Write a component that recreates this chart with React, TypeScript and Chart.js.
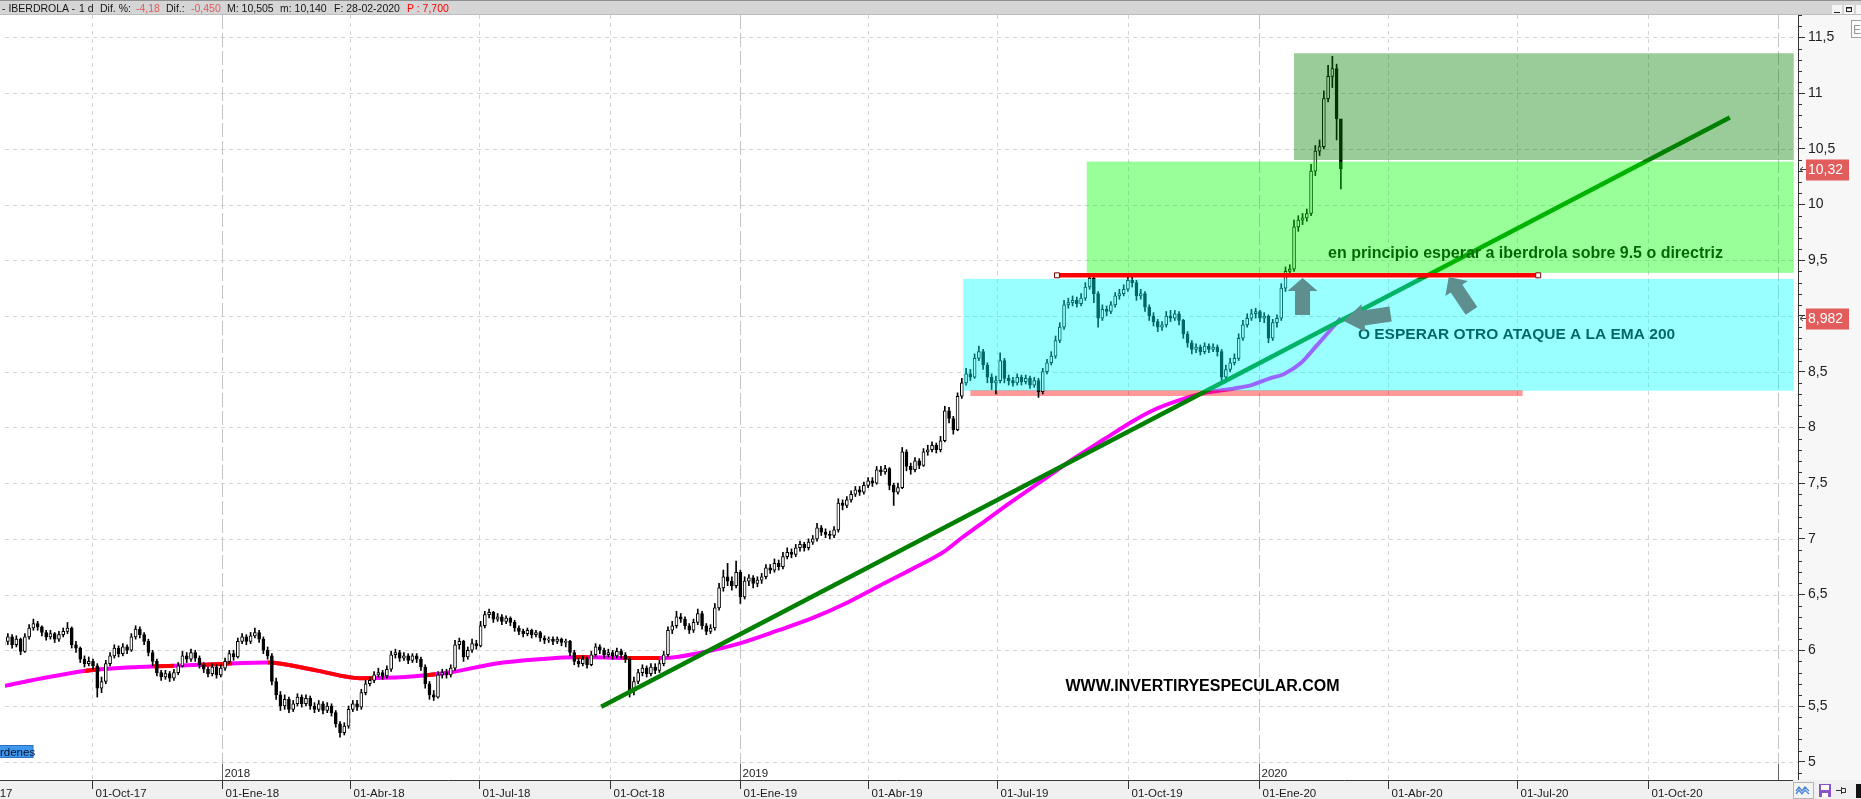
import React, { useEffect, useRef } from 'react';
import { Chart, registerables } from 'chart.js';

Chart.register(...registerables);

// ---------------- DATA ----------------
// Candles: one bar every 3 calendar days, from 31-07-2017 to 28-02-2020
const CANDLE_START = '2017-07-31';
const CANDLE_STEP_DAYS = 3;
const FIRST_OPEN = 6.04;

const closes = [
  6.08, 6.12, 6.05, 6.10, 5.99, 6.12, 6.20, 6.24, 6.21, 6.16,
  6.12, 6.15, 6.10, 6.14, 6.17, 6.20, 6.05, 6.02, 5.92, 5.88,
  5.90, 5.86, 5.66, 5.72, 5.88, 5.95, 6.02, 5.97, 6.03, 6.00,
  6.12, 6.19, 6.14, 6.08, 5.98, 5.90, 5.80, 5.76, 5.79, 5.75,
  5.80, 5.86, 5.95, 5.92, 5.98, 5.93, 5.87, 5.83, 5.79, 5.85,
  5.78, 5.84, 5.90, 5.97, 5.94, 6.08, 6.12, 6.08, 6.13, 6.16,
  6.10, 6.00, 5.95, 5.72, 5.60, 5.50, 5.56, 5.47, 5.52, 5.58,
  5.52, 5.57, 5.50, 5.47, 5.52, 5.46, 5.50, 5.44, 5.34, 5.26,
  5.32, 5.47, 5.52, 5.49, 5.62, 5.70, 5.73, 5.78, 5.80, 5.77,
  5.83, 5.96, 5.98, 5.93, 5.95, 5.91, 5.95, 5.92, 5.85, 5.70,
  5.60, 5.58, 5.78, 5.80, 5.78, 5.84, 6.05, 6.08, 5.94, 6.00,
  6.06, 6.04, 6.22, 6.32, 6.34, 6.28, 6.30, 6.26, 6.29, 6.25,
  6.20, 6.17, 6.15, 6.18, 6.14, 6.16, 6.11, 6.09, 6.10, 6.08,
  6.10, 6.07, 6.08, 5.98, 5.90, 5.88, 5.92, 5.87, 5.96, 6.03,
  6.00, 5.96, 5.98, 5.95, 5.99, 5.96, 5.92, 5.64, 5.72, 5.80,
  5.84, 5.79, 5.85, 5.82, 5.88, 5.96, 6.18, 6.22, 6.30, 6.28,
  6.22, 6.18, 6.25, 6.33, 6.22, 6.17, 6.20, 6.38, 6.56, 6.66,
  6.62, 6.58, 6.70, 6.48, 6.62, 6.65, 6.60, 6.63, 6.66, 6.74,
  6.72, 6.78, 6.75, 6.84, 6.88, 6.86, 6.92, 6.95, 6.92, 6.97,
  7.00, 7.10, 7.06, 7.04, 7.03, 7.08, 7.32, 7.30, 7.35, 7.40,
  7.44, 7.42, 7.48, 7.52, 7.50, 7.62, 7.60, 7.63, 7.48, 7.42,
  7.46, 7.78, 7.65, 7.62, 7.70, 7.66, 7.78, 7.80, 7.84, 7.80,
  7.88, 8.15, 8.08, 7.98, 8.28, 8.40, 8.48, 8.45, 8.62, 8.68,
  8.56, 8.45, 8.40, 8.42, 8.60, 8.44, 8.42, 8.40, 8.45, 8.41,
  8.44, 8.38, 8.42, 8.32, 8.50, 8.58, 8.64, 8.78, 8.90, 9.10,
  9.12, 9.14, 9.11, 9.16, 9.26, 9.34, 9.20, 8.98, 9.06, 9.04,
  9.10, 9.18, 9.20, 9.24, 9.32, 9.30, 9.18, 9.20, 9.08, 9.00,
  8.95, 8.90, 8.92, 9.00, 8.98, 9.02, 8.96, 8.84, 8.76, 8.70,
  8.72, 8.68, 8.73, 8.70, 8.72, 8.68, 8.45, 8.52, 8.58, 8.62,
  8.80, 8.92, 8.98, 9.02, 9.04, 8.98, 9.00, 8.80, 8.94, 8.98,
  9.25, 9.40, 9.42, 9.80, 9.86, 9.88, 9.92, 10.30, 10.48, 10.52,
  10.95, 11.15, 11.22, 10.77, 10.32,
];

const highs = [
  6.12, 6.15, 6.14, 6.13, 6.11, 6.15, 6.23, 6.28, 6.26, 6.22,
  6.18, 6.18, 6.16, 6.17, 6.20, 6.25, 6.21, 6.08, 6.03, 5.95,
  5.94, 5.92, 5.88, 5.76, 5.91, 5.98, 6.05, 6.04, 6.06, 6.05,
  6.15, 6.22, 6.21, 6.16, 6.10, 6.00, 5.92, 5.82, 5.82, 5.81,
  5.83, 5.89, 5.99, 5.98, 6.01, 6.00, 5.95, 5.89, 5.85, 5.88,
  5.87, 5.87, 5.93, 6.00, 6.00, 6.11, 6.15, 6.14, 6.16, 6.20,
  6.18, 6.12, 6.03, 5.97, 5.75, 5.63, 5.60, 5.58, 5.55, 5.61,
  5.60, 5.60, 5.59, 5.53, 5.55, 5.54, 5.53, 5.52, 5.46, 5.36,
  5.35, 5.50, 5.55, 5.55, 5.65, 5.73, 5.76, 5.81, 5.84, 5.82,
  5.86, 5.99, 6.01, 6.00, 5.98, 5.97, 5.97, 5.97, 5.94, 5.87,
  5.72, 5.64, 5.81, 5.83, 5.83, 5.87, 6.09, 6.11, 6.09, 6.03,
  6.10, 6.09, 6.26, 6.35, 6.37, 6.35, 6.33, 6.32, 6.31, 6.30,
  6.27, 6.22, 6.19, 6.20, 6.19, 6.18, 6.17, 6.13, 6.12, 6.12,
  6.12, 6.11, 6.10, 6.09, 6.00, 5.93, 5.95, 5.94, 5.99, 6.06,
  6.05, 6.02, 6.01, 6.00, 6.02, 6.01, 5.98, 5.94, 5.76, 5.83,
  5.87, 5.86, 5.88, 5.88, 5.91, 5.99, 6.21, 6.26, 6.35, 6.33,
  6.30, 6.24, 6.28, 6.37, 6.35, 6.24, 6.23, 6.42, 6.60, 6.72,
  6.78, 6.66, 6.80, 6.72, 6.66, 6.68, 6.67, 6.66, 6.69, 6.77,
  6.77, 6.82, 6.81, 6.88, 6.92, 6.91, 6.95, 6.98, 6.97, 7.00,
  7.03, 7.14, 7.12, 7.09, 7.07, 7.11, 7.36, 7.35, 7.38, 7.43,
  7.47, 7.47, 7.51, 7.55, 7.55, 7.65, 7.65, 7.66, 7.64, 7.50,
  7.50, 7.82, 7.80, 7.68, 7.73, 7.72, 7.81, 7.84, 7.87, 7.86,
  7.92, 8.19, 8.18, 8.10, 8.31, 8.44, 8.53, 8.52, 8.66, 8.73,
  8.70, 8.58, 8.48, 8.46, 8.67, 8.62, 8.47, 8.45, 8.48, 8.47,
  8.47, 8.46, 8.45, 8.44, 8.53, 8.61, 8.68, 8.82, 8.94, 9.14,
  9.16, 9.18, 9.17, 9.20, 9.30, 9.38, 9.36, 9.22, 9.10, 9.09,
  9.13, 9.21, 9.24, 9.28, 9.38, 9.36, 9.32, 9.24, 9.22, 9.10,
  9.03, 8.97, 8.95, 9.04, 9.05, 9.05, 9.04, 8.97, 8.86, 8.78,
  8.75, 8.74, 8.76, 8.75, 8.75, 8.74, 8.70, 8.56, 8.62, 8.66,
  8.84, 8.96, 9.02, 9.06, 9.07, 9.05, 9.03, 9.01, 8.97, 9.01,
  9.29, 9.44, 9.46, 9.86, 9.90, 9.92, 9.96, 10.36, 10.53, 10.58,
  11.02, 11.25, 11.33, 11.26, 10.505,
];

const lows = [
  6.02, 6.05, 6.02, 6.03, 5.96, 5.98, 6.10, 6.18, 6.18, 6.13,
  6.09, 6.10, 6.07, 6.08, 6.12, 6.15, 6.02, 5.98, 5.89, 5.85,
  5.86, 5.83, 5.58, 5.62, 5.70, 5.86, 5.93, 5.94, 5.95, 5.97,
  5.99, 6.10, 6.11, 6.05, 5.95, 5.86, 5.77, 5.73, 5.74, 5.72,
  5.73, 5.78, 5.85, 5.89, 5.90, 5.90, 5.84, 5.80, 5.76, 5.77,
  5.75, 5.76, 5.82, 5.88, 5.91, 5.93, 6.06, 6.05, 6.06, 6.11,
  6.07, 5.97, 5.92, 5.69, 5.56, 5.46, 5.47, 5.44, 5.45, 5.50,
  5.49, 5.50, 5.47, 5.44, 5.45, 5.43, 5.44, 5.41, 5.31, 5.22,
  5.24, 5.30, 5.45, 5.46, 5.47, 5.60, 5.68, 5.71, 5.76, 5.74,
  5.75, 5.81, 5.93, 5.90, 5.91, 5.88, 5.89, 5.89, 5.82, 5.66,
  5.56, 5.55, 5.57, 5.75, 5.75, 5.76, 5.82, 6.01, 5.90, 5.92,
  5.98, 6.01, 6.03, 6.20, 6.29, 6.25, 6.26, 6.23, 6.24, 6.22,
  6.17, 6.14, 6.12, 6.13, 6.11, 6.12, 6.08, 6.06, 6.07, 6.05,
  6.06, 6.04, 6.03, 5.95, 5.87, 5.85, 5.86, 5.84, 5.86, 5.94,
  5.97, 5.93, 5.94, 5.92, 5.93, 5.93, 5.89, 5.58, 5.60, 5.70,
  5.77, 5.76, 5.77, 5.79, 5.80, 5.86, 5.94, 6.15, 6.20, 6.25,
  6.19, 6.15, 6.16, 6.23, 6.19, 6.14, 6.15, 6.18, 6.36, 6.53,
  6.58, 6.54, 6.56, 6.42, 6.46, 6.58, 6.56, 6.57, 6.60, 6.64,
  6.69, 6.70, 6.72, 6.73, 6.82, 6.83, 6.84, 6.89, 6.89, 6.90,
  6.95, 6.98, 7.03, 7.01, 7.00, 7.01, 7.06, 7.26, 7.28, 7.33,
  7.38, 7.39, 7.40, 7.46, 7.47, 7.49, 7.57, 7.58, 7.44, 7.30,
  7.40, 7.45, 7.61, 7.58, 7.60, 7.63, 7.65, 7.75, 7.78, 7.77,
  7.78, 7.87, 8.04, 7.94, 7.97, 8.26, 8.38, 8.42, 8.44, 8.60,
  8.52, 8.40, 8.34, 8.30, 8.40, 8.40, 8.38, 8.37, 8.38, 8.38,
  8.39, 8.35, 8.36, 8.27, 8.30, 8.48, 8.56, 8.62, 8.76, 8.88,
  9.07, 9.09, 9.08, 9.09, 9.14, 9.24, 9.12, 8.90, 8.96, 9.00,
  9.02, 9.08, 9.15, 9.18, 9.22, 9.26, 9.14, 9.15, 9.04, 8.96,
  8.91, 8.86, 8.87, 8.90, 8.95, 8.96, 8.92, 8.80, 8.72, 8.66,
  8.67, 8.65, 8.66, 8.67, 8.68, 8.64, 8.40, 8.43, 8.50, 8.56,
  8.60, 8.78, 8.90, 8.96, 8.98, 8.95, 8.94, 8.76, 8.78, 8.90,
  8.96, 9.22, 9.36, 9.40, 9.76, 9.82, 9.85, 9.90, 10.26, 10.44,
  10.50, 10.92, 11.05, 10.58, 10.14,
];

// EMA 200
const emaDates = [
  '2017-07-31', '2017-09-01', '2017-09-30', '2017-11-03', '2017-12-17', '2018-02-02',
  '2018-03-08', '2018-04-08', '2018-05-10', '2018-06-10', '2018-07-12', '2018-08-12',
  '2018-09-12', '2018-10-14', '2018-11-08', '2018-12-05', '2018-12-31', '2019-01-28',
  '2019-02-21', '2019-03-16', '2019-04-09', '2019-05-02', '2019-05-25', '2019-06-06',
  '2019-06-18', '2019-07-04', '2019-07-30', '2019-08-25', '2019-09-15', '2019-10-05',
  '2019-10-18', '2019-11-10', '2019-11-24', '2019-12-15', '2019-12-27', '2020-01-09',
  '2020-01-19', '2020-01-31', '2020-02-10', '2020-02-28',
];
const emaValues = [
  5.68, 5.76, 5.82, 5.85, 5.87, 5.89,
  5.82, 5.75, 5.76, 5.80, 5.88, 5.92,
  5.94, 5.93, 5.93, 5.98, 6.06, 6.18,
  6.29, 6.42, 6.58, 6.73, 6.89, 7.01,
  7.12, 7.27, 7.50, 7.73, 7.90, 8.06,
  8.15, 8.26, 8.31, 8.35, 8.38, 8.44,
  8.48, 8.58, 8.72, 8.982,
];
// periods where the price was under the EMA (EMA painted red)
const emaBelowStart = ['2017-09-26', '2017-11-14', '2017-12-17', '2018-02-02', '2018-05-23', '2018-09-06', '2018-10-10'];
const emaBelowEnd = ['2017-10-07', '2017-11-28', '2018-01-08', '2018-04-18', '2018-05-31', '2018-09-16', '2018-11-05'];

// Drawn objects
const trendDates = ['2018-09-25', '2020-11-28'];
const trendValues = [5.494, 10.781];
const resistDates = ['2019-08-12', '2020-07-16'];
const resistLevel = 9.365;
const supportDates = ['2019-06-12', '2020-07-05'];
const supportLevel = 8.309;

const zoneStart = ['2019-06-07', '2019-09-02', '2020-01-26'];
const zoneEnd = ['2021-01-12', '2021-01-12', '2021-01-12'];
const zoneLow = [8.33, 9.387, 10.40];
const zoneHigh = [9.333, 10.386, 11.358];

const noteTexts = [
  'en principio esperar a iberdrola sobre 9.5 o directriz',
  'O ESPERAR OTRO ATAQUE A LA EMA 200',
  'WWW.INVERTIRYESPECULAR.COM',
];
const noteDates = ['2020-02-19', '2020-03-11', '2019-08-18'];
const notePrices = [9.556, 8.83, 5.67];

const arrowTipDates = ['2020-02-01', '2020-05-14', '2020-03-01'];
const arrowTipPrices = [9.341, 9.35, 8.955];
const arrowTailDates = ['2020-02-01', '2020-05-30', '2020-04-03'];
const arrowTailPrices = [9.009, 9.045, 9.018];

// Axis ticks
const yTicks = [5, 5.5, 6, 6.5, 7, 7.5, 8, 8.5, 9, 9.5, 10, 10.5, 11, 11.5];
const xTickDates = [
  '2017-07-01', '2017-10-01', '2018-01-01', '2018-04-01', '2018-07-01', '2018-10-01', '2019-01-01',
  '2019-04-01', '2019-07-01', '2019-10-01', '2020-01-01', '2020-04-01', '2020-07-01', '2020-10-01', '2021-01-01',
];
const xTickLabels = [
  '01-Jul-17', '01-Oct-17', '01-Ene-18', '01-Abr-18', '01-Jul-18', '01-Oct-18', '01-Ene-19',
  '01-Abr-19', '01-Jul-19', '01-Oct-19', '01-Ene-20', '01-Abr-20', '01-Jul-20', '01-Oct-20', '01-Ene-21',
];

const VIEW_START = '2017-08-01';
const VIEW_END = '2021-01-15';
const Y_MIN = 4.836;
const Y_MAX = 11.701;

const TICKER = 'IBERDROLA';
const LAST_DATE = '28-02-2020';
const P_VALUE = '7,700';

// ---------------- STYLE ----------------
const W = 1861;
const H = 799;
const FONT = '"Liberation Sans", Arial, sans-serif';
const ZONE_COLORS = ['rgba(0,255,255,0.4)', 'rgba(0,255,0,0.4)', 'rgba(0,128,0,0.4)'];
const NOTE_FONTS = [`bold 16px ${FONT}`, `bold 15.5px ${FONT}`, `bold 16px ${FONT}`];
const ARROW_COLOR = '#5f8e8e';
const ARROW_HEAD = [[13, 30, 15], [14, 27, 14], [20, 28, 15]];

const DAY0 = Date.UTC(2018, 0, 1);
const dayNum = (iso: string) => {
  const [y, m, d] = iso.split('-').map(Number);
  return (Date.UTC(y, m - 1, d) - DAY0) / 86400000;
};
const comma = (v: number, dec: number) => v.toFixed(dec).replace('.', ',');

const candleX = closes.map((_, i) => dayNum(CANDLE_START) + i * CANDLE_STEP_DAYS);
const opens = closes.map((_, i) => (i === 0 ? FIRST_OPEN : closes[i - 1]));
const lastClose = closes[closes.length - 1];
const prevClose = closes[closes.length - 2];
const lastHigh = highs[highs.length - 1];
const lastLow = lows[lows.length - 1];
const lastEma = emaValues[emaValues.length - 1];

const IDX_TREND = 1;
const IDX_EMA_RED = 5;

function blockArrow(ctx: any, tx: number, ty: number, bx: number, by: number, hl: number, hw: number, sw: number) {
  const ang = Math.atan2(ty - by, tx - bx);
  const len = Math.hypot(tx - bx, ty - by);
  ctx.save();
  ctx.translate(bx, by);
  ctx.rotate(ang);
  ctx.beginPath();
  ctx.moveTo(0, -sw / 2);
  ctx.lineTo(len - hl, -sw / 2);
  ctx.lineTo(len - hl, -hw / 2);
  ctx.lineTo(len, 0);
  ctx.lineTo(len - hl, hw / 2);
  ctx.lineTo(len - hl, sw / 2);
  ctx.lineTo(0, sw / 2);
  ctx.closePath();
  ctx.fill();
  ctx.restore();
}

const decorPlugin = {
  id: 'decor',
  beforeDraw(chart: any) {
    const { ctx, width, height, chartArea: a } = chart;
    ctx.save();
    ctx.fillStyle = '#ffffff';
    ctx.fillRect(0, 0, width, height);
    ctx.fillStyle = '#f7f7f7';
    ctx.fillRect(a.right, 0, width - a.right, a.bottom);
    ctx.restore();
  },
  beforeDatasetsDraw(chart: any) {
    const { ctx, chartArea: a } = chart;
    const xs = chart.scales.x;
    const ys = chart.scales.y;
    ctx.save();
    ctx.lineWidth = 1;
    ctx.setLineDash([4, 4]);
    ctx.strokeStyle = '#d3d3d3';
    yTicks.forEach((v) => {
      const y = Math.round(ys.getPixelForValue(v)) + 0.5;
      ctx.beginPath();
      ctx.moveTo(a.left, y);
      ctx.lineTo(a.right, y);
      ctx.stroke();
    });
    xTickDates.forEach((d) => {
      const x = Math.round(xs.getPixelForValue(dayNum(d))) + 0.5;
      if (x < a.left || x > a.right) return;
      const yr = d.endsWith('-01-01');
      ctx.setLineDash(yr ? [14, 4] : [4, 4]);
      ctx.strokeStyle = yr ? '#c4c4c4' : '#d3d3d3';
      ctx.beginPath();
      ctx.moveTo(x, a.top);
      ctx.lineTo(x, a.bottom);
      ctx.stroke();
    });
    ctx.restore();
  },
  beforeDatasetDraw(chart: any, args: any) {
    if (args.index !== IDX_EMA_RED) return;
    const { ctx, chartArea: a } = chart;
    const xs = chart.scales.x;
    ctx.save();
    ctx.beginPath();
    emaBelowStart.forEach((s, i) => {
      const x1 = xs.getPixelForValue(dayNum(s));
      const x2 = xs.getPixelForValue(dayNum(emaBelowEnd[i]));
      ctx.rect(x1, a.top, x2 - x1, a.bottom - a.top);
    });
    ctx.clip();
  },
  afterDatasetDraw(chart: any, args: any) {
    const { ctx, chartArea: a } = chart;
    if (args.index === IDX_EMA_RED) {
      ctx.restore();
      return;
    }
    if (args.index !== IDX_TREND) return;
    const xs = chart.scales.x;
    const ys = chart.scales.y;
    ctx.save();
    ctx.beginPath();
    ctx.rect(a.left, a.top, a.right - a.left, a.bottom - a.top);
    ctx.clip();
    ctx.fillStyle = '#000000';
    ctx.textBaseline = 'middle';
    ctx.textAlign = 'left';
    noteTexts.forEach((t, i) => {
      ctx.font = NOTE_FONTS[i];
      ctx.fillText(t, xs.getPixelForValue(dayNum(noteDates[i])), ys.getPixelForValue(notePrices[i]));
    });
    zoneStart.forEach((s, i) => {
      const x1 = xs.getPixelForValue(dayNum(s));
      const x2 = xs.getPixelForValue(dayNum(zoneEnd[i]));
      const y1 = ys.getPixelForValue(zoneHigh[i]);
      const y2 = ys.getPixelForValue(zoneLow[i]);
      ctx.fillStyle = ZONE_COLORS[i];
      ctx.fillRect(x1, y1, x2 - x1, y2 - y1);
    });
    ctx.restore();
  },
  afterDatasetsDraw(chart: any) {
    const { ctx } = chart;
    const xs = chart.scales.x;
    const ys = chart.scales.y;
    ctx.save();
    ctx.fillStyle = ARROW_COLOR;
    arrowTipDates.forEach((d, i) => {
      const [hl, hw, sw] = ARROW_HEAD[i];
      blockArrow(
        ctx,
        xs.getPixelForValue(dayNum(d)), ys.getPixelForValue(arrowTipPrices[i]),
        xs.getPixelForValue(dayNum(arrowTailDates[i])), ys.getPixelForValue(arrowTailPrices[i]),
        hl, hw, sw,
      );
    });
    ctx.restore();
  },
  afterDraw(chart: any) {
    const { ctx, width, height, chartArea: a } = chart;
    const xs = chart.scales.x;
    const ys = chart.scales.y;
    ctx.save();
    // minor ticks on price axis
    ctx.strokeStyle = '#333';
    ctx.lineWidth = 1;
    for (let k = Math.ceil(Y_MIN * 10); k <= Math.floor(Y_MAX * 10); k++) {
      if (k % 5 === 0) continue;
      const y = Math.round(ys.getPixelForValue(k / 10)) + 0.5;
      ctx.beginPath();
      ctx.moveTo(a.right, y);
      ctx.lineTo(a.right + 4, y);
      ctx.stroke();
    }
    // bottom date strip
    ctx.fillStyle = '#f0f0f0';
    ctx.fillRect(0, a.bottom, width, height - a.bottom);
    ctx.strokeStyle = '#3a3a3a';
    ctx.beginPath();
    ctx.moveTo(0, a.bottom + 0.5);
    ctx.lineTo(a.right - 5, a.bottom + 0.5);
    ctx.stroke();
    ctx.font = `11.5px ${FONT}`;
    ctx.textBaseline = 'alphabetic';
    ctx.textAlign = 'left';
    xTickDates.forEach((d, i) => {
      const x = Math.round(xs.getPixelForValue(dayNum(d))) + 0.5;
      const lbl = xTickLabels[i];
      const wLbl = ctx.measureText(lbl).width;
      const yr = d.endsWith('-01-01');
      if (yr) {
        ctx.strokeStyle = '#666';
        ctx.beginPath();
        ctx.moveTo(x, a.bottom - 16);
        ctx.lineTo(x, a.bottom);
        ctx.stroke();
        const yl = '20' + d.slice(2, 4);
        if (x + 3 + ctx.measureText(yl).width < a.right - 8) {
          ctx.fillStyle = '#222';
          ctx.fillText(yl, x + 2, a.bottom - 3);
        }
      }
      if (x + 3 + wLbl > a.right - 6) return;
      ctx.strokeStyle = '#333';
      ctx.beginPath();
      ctx.moveTo(x, a.bottom);
      ctx.lineTo(x, a.bottom + 9);
      ctx.stroke();
      ctx.fillStyle = '#1a1a1a';
      ctx.fillText(lbl, x + 3, height - 2);
    });
    // price tags
    const tags = [
      { v: lastClose, t: comma(lastClose, 2) },
      { v: lastEma, t: comma(lastEma, 3) },
    ];
    ctx.font = `14px ${FONT}`;
    ctx.textBaseline = 'middle';
    tags.forEach((tg) => {
      const y = ys.getPixelForValue(tg.v);
      ctx.fillStyle = '#e25c5c';
      ctx.fillRect(a.right + 8, Math.round(y) - 9.5, 43, 21);
      ctx.fillStyle = '#ffffff';
      ctx.fillText(tg.t, a.right + 10, y + 1);
      ctx.strokeStyle = '#444';
      ctx.beginPath();
      ctx.moveTo(a.right + 2, Math.round(y) + 0.5);
      ctx.lineTo(a.right + 8, Math.round(y) + 0.5);
      ctx.moveTo(a.right + 5, Math.round(y) - 2);
      ctx.lineTo(a.right + 2, Math.round(y) + 0.5);
      ctx.lineTo(a.right + 5, Math.round(y) + 3);
      ctx.stroke();
    });
    // "Órdenes" tab (cut at left edge)
    ctx.fillStyle = '#3d98ee';
    ctx.fillRect(0, 745, 33, 13);
    ctx.strokeStyle = '#2b6fc2';
    ctx.strokeRect(-1, 745.5, 34, 12);
    ctx.fillStyle = '#101030';
    ctx.font = `11.5px ${FONT}`;
    ctx.textBaseline = 'alphabetic';
    ctx.fillText('rdenes', 0, 756);
    // header bar
    ctx.fillStyle = '#d5d5d5';
    ctx.fillRect(0, 0, width, 15);
    ctx.fillStyle = '#8f8f8f';
    ctx.fillRect(0, 0, width, 1);
    ctx.fillStyle = '#bdbdbd';
    ctx.fillRect(0, 14, width, 1);
    // window buttons
    ctx.fillStyle = '#f5f5f5';
    ctx.fillRect(1832, 5, 10, 9);
    ctx.fillRect(1844, 5, 10, 9);
    ctx.fillRect(1856, 5, 6, 9);
    ctx.fillStyle = '#222';
    ctx.fillRect(1834, 12, 6, 1);
    ctx.strokeStyle = '#222';
    ctx.strokeRect(1846.5, 7.5, 5, 4);
    ctx.fillRect(1846, 7, 6, 1.5);
    // E box
    ctx.fillStyle = '#fbfbfb';
    ctx.fillRect(1851, 20, 14, 18);
    ctx.strokeStyle = '#a0a0a0';
    ctx.strokeRect(1851.5, 20.5, 14, 17);
    ctx.fillStyle = '#9a9a9a';
    ctx.font = `12px ${FONT}`;
    ctx.fillText('E', 1853, 34);
    // bottom-right icons
    ctx.fillStyle = '#f4f4f4';
    ctx.fillRect(1793, 782, 20, 16);
    ctx.strokeStyle = '#b5b5b5';
    ctx.strokeRect(1793.5, 782.5, 20, 16);
    ctx.strokeStyle = '#4a86d8';
    ctx.lineWidth = 1.3;
    ctx.beginPath();
    ctx.moveTo(1796, 791); ctx.lineTo(1799, 787); ctx.lineTo(1802, 791); ctx.lineTo(1805, 787); ctx.lineTo(1809, 791);
    ctx.moveTo(1796, 794); ctx.lineTo(1799, 790); ctx.lineTo(1802, 794); ctx.lineTo(1805, 790); ctx.lineTo(1809, 794);
    ctx.stroke();
    ctx.lineWidth = 1;
    ctx.fillStyle = '#8a52c8';
    ctx.fillRect(1819, 784, 12, 13);
    ctx.fillStyle = '#ffffff';
    ctx.fillRect(1821, 785, 8, 5);
    ctx.fillRect(1822, 793, 6, 4);
    ctx.strokeStyle = '#333';
    ctx.beginPath();
    ctx.moveTo(1836, 790.5); ctx.lineTo(1841, 790.5);
    ctx.moveTo(1841.5, 787); ctx.lineTo(1841.5, 794);
    ctx.rect(1841.5, 788.5, 4, 4);
    ctx.stroke();
    ctx.fillStyle = '#111';
    ctx.fillRect(1856, 784, 5, 14);
    ctx.restore();
  },
};

export default function App() {
  const ref = useRef<HTMLCanvasElement>(null);

  useEffect(() => {
    document.body.style.margin = '0';
    document.body.style.overflow = 'hidden';
    const canvas = ref.current;
    if (!canvas) return;

    const bodies = closes.map((c, i) => ({ x: candleX[i], y: [opens[i], c] }));
    const wicks = closes.map((_, i) => ({ x: candleX[i], y: [lows[i], highs[i]] }));
    const emaData = emaDates.map((d, i) => ({ x: dayNum(d), y: emaValues[i] }));

    const chart = new Chart(canvas, {
      type: 'bar',
      data: {
        datasets: [
          {
            type: 'line',
            label: 'Resistencia',
            data: resistDates.map((d) => ({ x: dayNum(d), y: resistLevel })),
            borderColor: '#ff0000',
            borderWidth: 4.5,
            borderCapStyle: 'butt',
            pointStyle: 'rect',
            pointRadius: 3.5,
            pointBackgroundColor: '#ffffff',
            pointBorderColor: '#7a0000',
            pointBorderWidth: 1,
          },
          {
            type: 'line',
            label: 'Directriz',
            data: trendDates.map((d, i) => ({ x: dayNum(d), y: trendValues[i] })),
            borderColor: 'rgb(0,128,0)',
            borderWidth: 4.5,
            borderCapStyle: 'butt',
            pointRadius: 0,
          },
          {
            type: 'bar',
            label: 'Cuerpo',
            data: bodies as any,
            barThickness: 3,
            grouped: false,
            borderSkipped: false,
            borderWidth: 1,
            borderColor: '#000000',
            backgroundColor: (c: any) => (closes[c.dataIndex] >= opens[c.dataIndex] ? '#ffffff' : '#000000'),
          },
          {
            type: 'bar',
            label: 'Mecha',
            data: wicks as any,
            barThickness: 1,
            grouped: false,
            borderWidth: 0,
            backgroundColor: '#000000',
          },
          {
            type: 'line',
            label: 'Soporte',
            data: supportDates.map((d) => ({ x: dayNum(d), y: supportLevel })),
            borderColor: 'rgba(255,0,0,0.4)',
            borderWidth: 6,
            borderCapStyle: 'butt',
            pointRadius: 0,
          },
          {
            type: 'line',
            label: 'EMA 200 (precio debajo)',
            data: emaData,
            borderColor: '#ff0000',
            borderWidth: 4,
            pointRadius: 0,
            cubicInterpolationMode: 'monotone',
          },
          {
            type: 'line',
            label: 'EMA 200',
            data: emaData,
            borderColor: '#ff00ff',
            borderWidth: 4,
            pointRadius: 0,
            cubicInterpolationMode: 'monotone',
          },
        ] as any,
      },
      options: {
        responsive: false,
        animation: false,
        events: [],
        layout: { padding: { top: 15, bottom: 19, left: 0, right: 0 } },
        plugins: {
          legend: { display: false },
          tooltip: { enabled: false },
          title: { display: false },
        },
        scales: {
          x: {
            type: 'linear',
            display: false,
            min: dayNum(VIEW_START),
            max: dayNum(VIEW_END),
            offset: false,
          },
          y: {
            type: 'linear',
            position: 'right',
            min: Y_MIN,
            max: Y_MAX,
            afterBuildTicks: (s: any) => {
              s.ticks = yTicks.map((v) => ({ value: v }));
            },
            afterFit: (s: any) => {
              s.width = 63;
            },
            ticks: {
              callback: (v: any) => String(v).replace('.', ','),
              font: { family: 'Liberation Sans', size: 14 },
              color: '#222222',
              padding: 3,
              autoSkip: false,
            },
            grid: { drawOnChartArea: false, drawTicks: true, tickLength: 7, tickColor: '#333333', tickWidth: 1 },
            border: { display: true, color: '#333333', width: 1 },
          },
        },
      } as any,
      plugins: [decorPlugin as any],
    });
    return () => chart.destroy();
  }, []);

  const dif = prevClose ? lastClose - prevClose : 0;
  const difPct = prevClose ? (dif / prevClose) * 100 : 0;
  const headerParts = [
    { t: `- ${TICKER} -`, x: 2, c: '#151515' },
    { t: '1 d', x: 79, c: '#151515' },
    { t: 'Dif. %:', x: 100, c: '#151515' },
    { t: comma(difPct, 2), x: 136, c: '#e05a5a' },
    { t: 'Dif.:', x: 166, c: '#151515' },
    { t: comma(dif, 3), x: 191, c: '#e05a5a' },
    { t: `M: ${comma(lastHigh, 3)}`, x: 227, c: '#151515' },
    { t: `m: ${comma(lastLow, 3)}`, x: 280, c: '#151515' },
    { t: `F: ${LAST_DATE}`, x: 334, c: '#151515' },
    { t: `P : ${P_VALUE}`, x: 407, c: '#ff0000' },
  ];

  return (
    <div style={{ position: 'relative', width: W, height: H, overflow: 'hidden', background: '#fff' }}>
      <canvas ref={ref} width={W} height={H} style={{ display: 'block', width: W, height: H }} />
      <div
        style={{
          position: 'absolute', left: 0, top: 1, height: 14, width: W,
          font: `10.5px ${FONT}`, lineHeight: '14px', whiteSpace: 'nowrap', pointerEvents: 'none',
        }}
      >
        {headerParts.map((p) => (
          <span key={p.x} style={{ position: 'absolute', left: p.x, top: 0, color: p.c }}>{p.t}</span>
        ))}
      </div>
    </div>
  );
}
